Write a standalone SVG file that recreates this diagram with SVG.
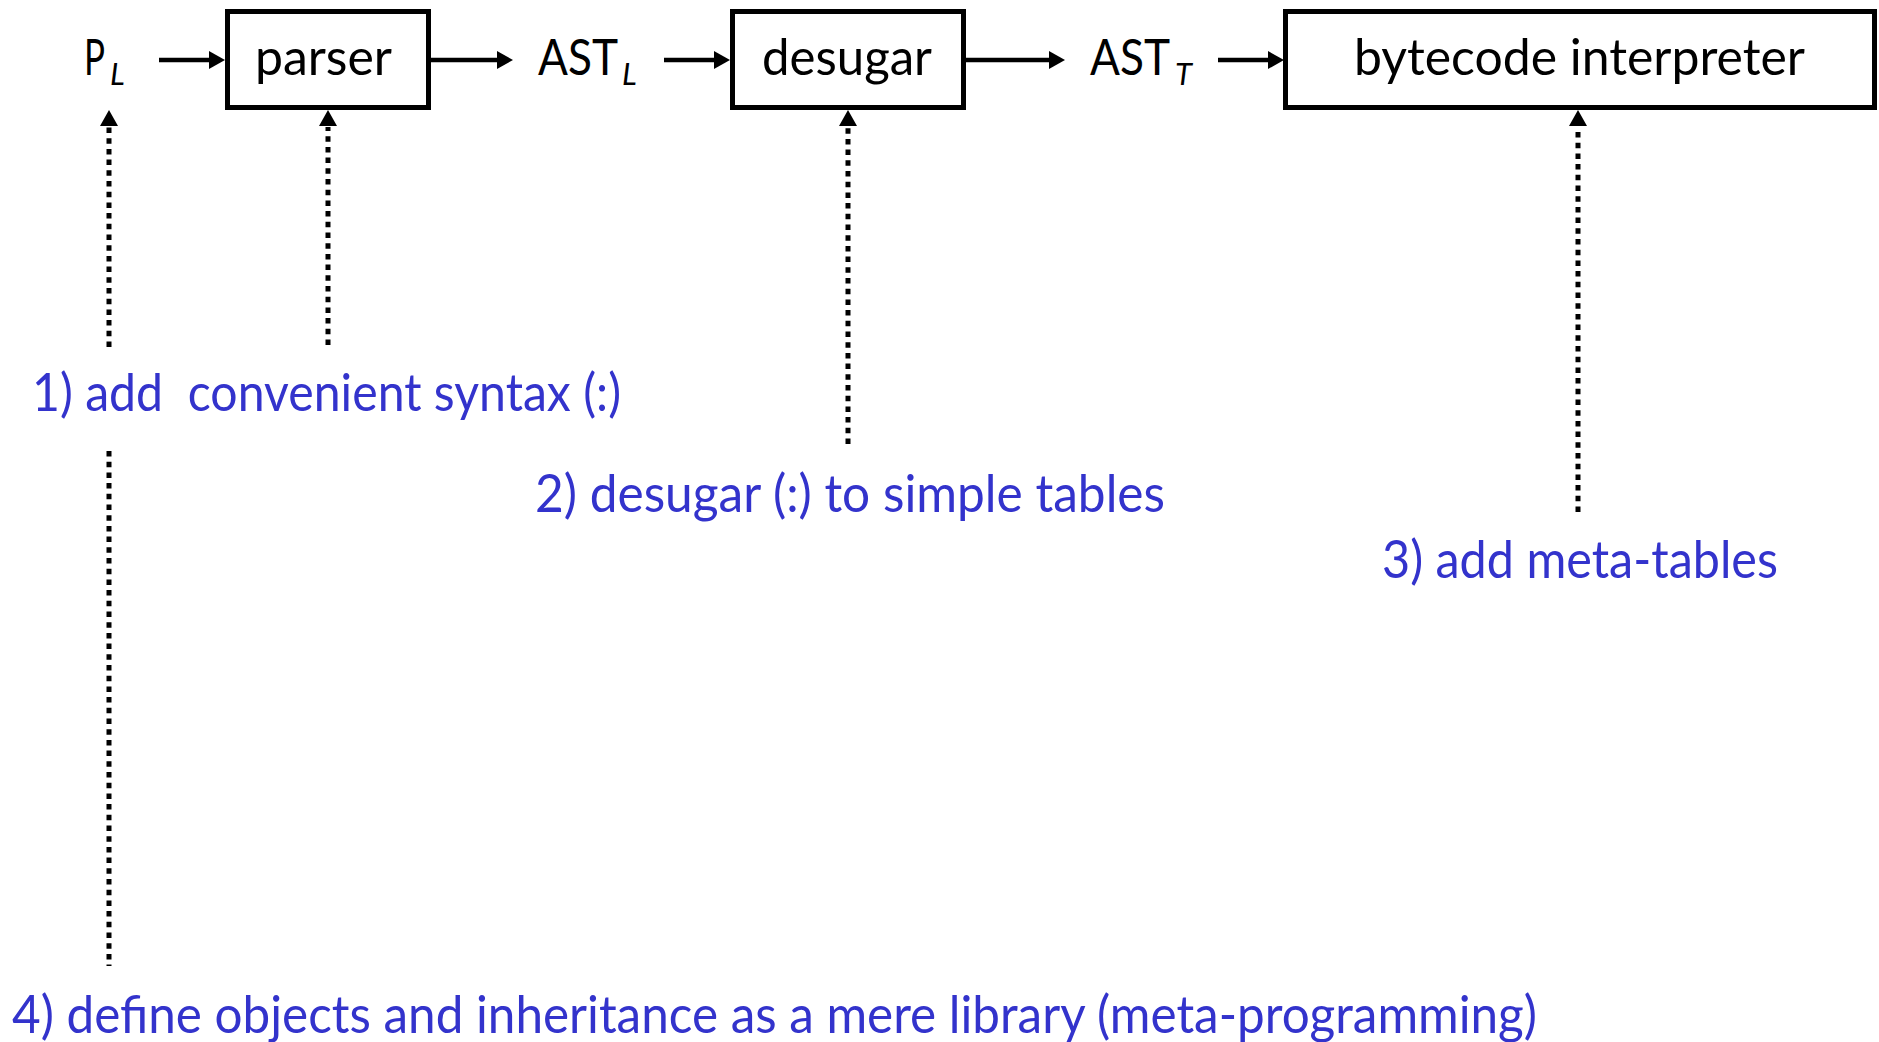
<svg xmlns="http://www.w3.org/2000/svg" width="1879" height="1042" viewBox="0 0 1879 1042">
<style>
.bg{fill:#ffffff}
.box{fill:#ffffff;stroke:#000000;stroke-width:5}
.lbl{font-family:Lato,"Open Sans","Liberation Sans",sans-serif;font-size:50px;fill:#000000}
.sub{font-size:31px;font-style:italic}
.note{font-family:Lato,"Open Sans","Liberation Sans",sans-serif;font-size:53px;fill:#3333cc;white-space:pre}
.flow{stroke:#000000;stroke-width:4.5;fill:none;marker-end:url(#ah)}
.dot{stroke:#000000;stroke-width:5;stroke-dasharray:5.5 5.2;fill:none}
.dota{stroke:#000000;stroke-width:5;stroke-dasharray:5.5 5.2;fill:none;marker-end:url(#ahv)}
</style>
<defs>
<marker id="ah" markerUnits="userSpaceOnUse" markerWidth="16" markerHeight="18" refX="5" refY="9" orient="auto" viewBox="0 0 16 18">
<path d="M0,0 L16,9 L0,18 z" fill="#000000"/>
</marker>
<marker id="ahv" markerUnits="userSpaceOnUse" markerWidth="17" markerHeight="18" refX="-1" refY="9" orient="auto" viewBox="-1 0 17 18">
<path d="M0,0 L16,9 L0,18 z" fill="#000000"/>
</marker>
</defs>
<rect class="bg" x="0" y="0" width="1879" height="1042"/>

<g id="PL">
<text class="lbl" x="84" y="75"><tspan textLength="21" lengthAdjust="spacingAndGlyphs">P</tspan><tspan class="sub" x="110" y="85">L</tspan></text>
</g>

<g id="parser">
<rect class="box" x="227.5" y="11.5" width="201" height="96"/>
<text class="lbl" x="255" y="75" textLength="137" lengthAdjust="spacingAndGlyphs">parser</text>
</g>

<g id="ASTL">
<text class="lbl" x="538" y="75"><tspan textLength="80" lengthAdjust="spacingAndGlyphs">AST</tspan><tspan class="sub" x="622" y="85">L</tspan></text>
</g>

<g id="desugar">
<rect class="box" x="732.5" y="11.5" width="231" height="96"/>
<text class="lbl" x="762" y="75" textLength="170" lengthAdjust="spacingAndGlyphs">desugar</text>
</g>

<g id="ASTT">
<text class="lbl" x="1090" y="75"><tspan textLength="80" lengthAdjust="spacingAndGlyphs">AST</tspan><tspan class="sub" x="1175" y="85">T</tspan></text>
</g>

<g id="interpreter">
<rect class="box" x="1285.5" y="11.5" width="589" height="96"/>
<text class="lbl" x="1354" y="75" textLength="451" lengthAdjust="spacingAndGlyphs">bytecode interpreter</text>
</g>

<g id="note1">
<text class="note" x="32" y="411" textLength="589" lengthAdjust="spacingAndGlyphs">1) add  convenient syntax (:)</text>
</g>
<g id="note2">
<text class="note" x="535" y="512" textLength="630" lengthAdjust="spacingAndGlyphs">2) desugar (:) to simple tables</text>
</g>
<g id="note3">
<text class="note" x="1382" y="578" textLength="396" lengthAdjust="spacingAndGlyphs">3) add meta-tables</text>
</g>
<g id="note4">
<text class="note" x="12" y="1033" textLength="1525" lengthAdjust="spacingAndGlyphs">4) define objects and inheritance as a mere library (meta-programming)</text>
</g>

<g id="connectors">
<line class="flow" x1="159" y1="60" x2="214" y2="60"/>
<line class="flow" x1="431" y1="60" x2="502" y2="60"/>
<line class="flow" x1="664" y1="60" x2="719" y2="60"/>
<line class="flow" x1="966" y1="60" x2="1054" y2="60"/>
<line class="flow" x1="1218" y1="60" x2="1273" y2="60"/>
<line class="dota" x1="109" y1="347" x2="109" y2="127"/>
<line class="dota" x1="328" y1="345" x2="328" y2="127"/>
<line class="dota" x1="848" y1="444" x2="848" y2="127"/>
<line class="dota" x1="1578" y1="512" x2="1578" y2="127"/>
<line class="dot" x1="109" y1="451" x2="109" y2="966"/>
</g>
</svg>
